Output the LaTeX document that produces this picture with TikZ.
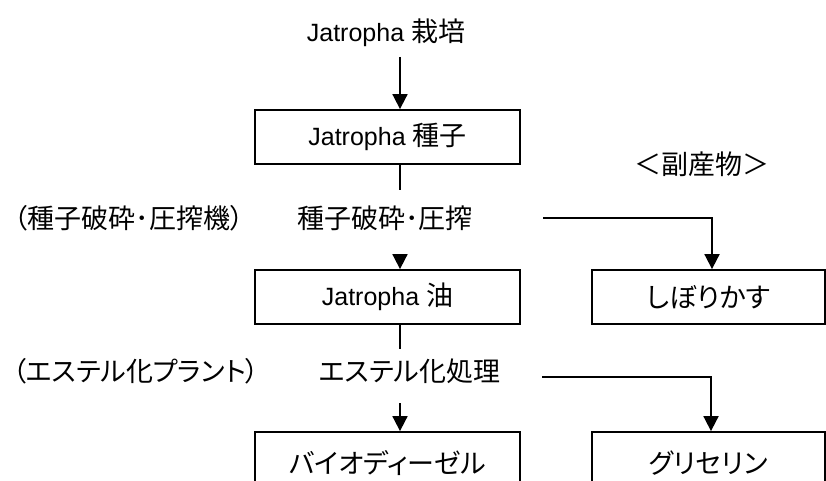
\documentclass[tikz,border=0pt]{standalone}
\usepackage{fontspec}
\usetikzlibrary{arrows.meta}
\newfontfamily\jpp[RawFeature=+palt]{Noto Sans CJK JP}
\newfontfamily\lat{Liberation Sans}
\newcommand\latx{\lat\fontsize{25}{30}\selectfont}
\begin{document}
\begin{tikzpicture}[x=1pt,y=-1pt,
  txt/.style={font=\jpp\fontsize{27}{32}\selectfont, inner sep=0pt},
  box/.style={draw, line width=1.8pt, minimum height=54pt, inner sep=0pt, font=\jpp\fontsize{27}{32}\selectfont},
  ln/.style={line width=1.8pt},
  arr/.style={line width=1.8pt, -{Triangle[length=15pt,width=15pt]}}]
\useasboundingbox (0,0) rectangle (826,481);
\clip (0,0) rectangle (826,481);
% nodes
\node[txt] (grow) at (386,33) {{\latx Jatropha }栽培};
\node[box, minimum width=265pt] (seed) at (387.5,137) {{\latx Jatropha }種子};
\node[txt] (byp) at (702,164) {＜副産物＞};
\node[txt, anchor=west] (press) at (297,218) {種子破砕･圧搾};
\node[txt] (pressm) at (129,218) {（種子破砕･圧搾機）};
\node[txt] (esterp) at (136,371) {（エステル化プラント）};
\node[box, minimum width=265pt] (oil) at (387.5,297) {{\latx Jatropha }油};
\node[box, minimum width=233pt] (cake) at (708.5,297) {しぼりかす};
\node[txt, anchor=west] (ester) at (319,371) {エステル化処理};
\node[box, minimum width=265pt, minimum height=62pt] (bdf) at (387.5,463) {バイオディーゼル};
\node[box, minimum width=233pt, minimum height=62pt] (gly) at (708.5,463) {グリセリン};
% coordinates
\coordinate (a0) at (400,57);
\coordinate (c1) at (400,190);
\coordinate (c2) at (400,255);
\coordinate (c3) at (400,349);
\coordinate (c4) at (400,403);
\coordinate (h1) at (543,218);
\coordinate (k1) at (712,218);
\coordinate (h2) at (542,377);
\coordinate (k2) at (711,377);
% connectors
\draw[arr] (a0) -- (a0 |- seed.north);
\draw[ln] (seed.south -| c1) -- (c1);
\draw[arr] (c2) -- (c2 |- oil.north);
\draw[ln] (oil.south -| c3) -- (c3);
\draw[arr] (c4) -- (c4 |- bdf.north);
\draw[arr] (h1) -- (k1) -- (k1 |- cake.north);
\draw[arr] (h2) -- (k2) -- (k2 |- gly.north);
\end{tikzpicture}
\end{document}
